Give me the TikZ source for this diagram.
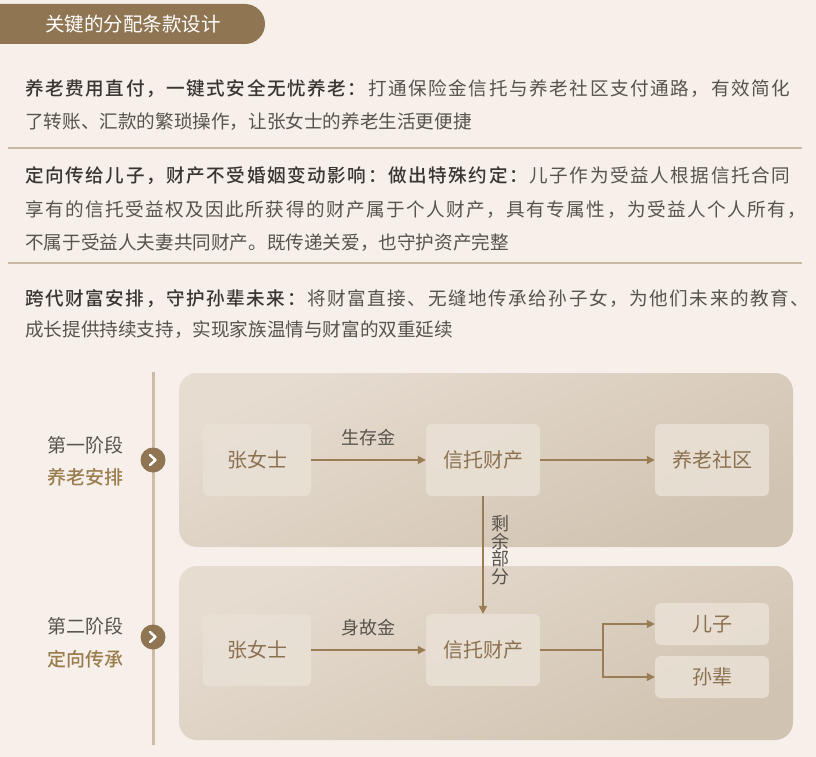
\documentclass[tikz,border=0pt]{standalone}
\usepackage{fontspec}
\setmainfont{Noto Sans CJK SC}[BoldFont={Noto Sans CJK SC Medium}]
\usetikzlibrary{arrows.meta,shadings}
\definecolor{bg}{HTML}{F7F0EA}
\definecolor{tab}{HTML}{8F7552}
\definecolor{txt}{HTML}{58534C}
\definecolor{txtb}{HTML}{3A3530}
\definecolor{sep}{HTML}{C9B8A3}
\definecolor{vline}{HTML}{CDBBA8}
\definecolor{brown}{HTML}{8B7150}
\definecolor{stagec}{HTML}{9A7D4E}
\definecolor{arr}{HTML}{9A7D55}
\definecolor{panelA}{HTML}{E6DCD0}
\definecolor{panelB}{HTML}{D1C3B1}
\definecolor{boxf}{HTML}{EAE1D6}
\newcommand{\fs}[1]{\fontsize{#1}{#1}\selectfont}
\def\sprdA#1{#1\sprdB}
\def\sprdB#1{\ifx#1\relax\else\hfil#1\expandafter\sprdB\fi}
\newcommand{\jlb}[3]{\hbox to #1{{\color{txtb}\bfseries\sprdA #2\relax}\hfil\sprdA #3\relax}}
\newcommand{\jlp}[2]{\hbox to #1{\sprdA #2\relax}}
\tikzset{
  para/.style={anchor=west, inner sep=0pt, text=txt, font=\fs{18.6}},
  panel/.style={rounded corners=18pt, top color=panelA, bottom color=panelB, shading angle=25, inner sep=0pt, minimum width=614pt, minimum height=174pt},
  fbox/.style={rounded corners=6pt, fill=boxf, fill opacity=0.85, text opacity=1, text=brown, font=\fs{20}, inner sep=0pt, minimum width=#1, minimum height=72pt},
  fbox/.default=108pt,
  sbox/.style={rounded corners=6pt, fill=boxf, fill opacity=0.85, text opacity=1, text=brown, font=\fs{20}, inner sep=0pt, minimum width=114pt, minimum height=42pt},
  flow/.style={draw=arr, line width=1.3pt, -{Triangle[length=8pt,width=8pt]}},
  flowline/.style={draw=arr, line width=1.3pt},
  elabel/.style={text=txt, font=\fs{18}, inner sep=0pt},
  stagedot/.style={circle, fill=tab, minimum size=25pt, inner sep=0pt},
  chev/.style={draw=white, line width=2.4pt, line cap=round, line join=round},
  stagea/.style={text=txt, font=\fs{19}, inner sep=0pt},
  stageb/.style={text=stagec, font=\bfseries\fs{19}, inner sep=0pt},
}
\begin{document}
\begin{tikzpicture}[x=1pt,y=-1pt]
\fill[bg] (0,0) rectangle (816,757);
\useasboundingbox (0,0) rectangle (816,757);
% header tab
\fill[tab] (0,4) -- (245,4) arc[start angle=-90, end angle=90, radius=20] -- (0,44) -- cycle;
\node[text=white, font=\fs{19.5}, inner sep=0pt] (hdr) at (133,24) {关键的分配条款设计};
% paragraphs
\node[para] (p1a) at (25,89) {\jlb{765pt}{养老费用直付，一键式安全无忧养老：}{打通保险金信托与养老社区支付通路，有效简化}};
\node[para] (p1b) at (25,122) {了转账、汇款的繁琐操作，让张女士的养老生活更便捷};
\draw[sep, line width=1.3pt] (8,148) -- (802,148);
\node[para] (p2a) at (25,176) {\jlb{765pt}{定向传给儿子，财产不受婚姻变动影响：做出特殊约定：}{儿子作为受益人根据信托合同}};
\node[para] (p2b) at (25,210) {\jlp{781pt}{享有的信托受益权及因此所获得的财产属于个人财产，具有专属性，为受益人个人所有，}};
\node[para] (p2c) at (25,243) {不属于受益人夫妻共同财产。既传递关爱，也守护资产完整};
\draw[sep, line width=1.3pt] (8,263) -- (802,263);
\node[para] (p3a) at (25,299) {\jlb{784pt}{跨代财富安排，守护孙辈未来：}{将财富直接、无缝地传承给孙子女，为他们未来的教育、}};
\node[para] (p3b) at (25,330) {成长提供持续支持，实现家族温情与财富的双重延续};
% timeline
\draw[vline, line width=3pt] (153,372) -- (153,745);
\node[panel] (panel1) at (486,460) {};
\node[panel] (panel2) at (486,653) {};
\node[stagedot] (dot1) at (153,460) {};
\draw[chev] ([xshift=-3pt,yshift=-5pt]dot1.center) -- ([xshift=2.5pt]dot1.center) -- ([xshift=-3pt,yshift=5pt]dot1.center);
\node[stagedot] (dot2) at (153,637) {};
\draw[chev] ([xshift=-3pt,yshift=-5pt]dot2.center) -- ([xshift=2.5pt]dot2.center) -- ([xshift=-3pt,yshift=5pt]dot2.center);
\node[stagea] (s1a) at (85,445) {第一阶段};
\node[stageb] (s1b) at (85,477) {养老安排};
\node[stagea] (s2a) at (85,626) {第二阶段};
\node[stageb] (s2b) at (85,659) {定向传承};
% stage 1 boxes
\node[fbox] (zhang1) at (257,460) {张女士};
\node[fbox=114pt] (trust1) at (483,460) {信托财产};
\node[fbox=114pt] (elder) at (712,460) {养老社区};
\draw[flow] (zhang1.east) -- (trust1.west) node[midway, above=13pt, elabel] (l1) {生存金};
\draw[flow] (trust1.east) -- (elder.west);
% stage 2 boxes
\node[fbox] (zhang2) at (257,650) {张女士};
\node[fbox=114pt] (trust2) at (483,650) {信托财产};
\node[sbox] (son) at (712,624) {儿子};
\node[sbox] (grand) at (712,677) {孙辈};
\draw[flow] (zhang2.east) -- (trust2.west) node[midway, above=13pt, elabel] (l2) {身故金};
\draw[flow] (trust1.south) -- (trust2.north);
\node[elabel, align=center] (rem) at (500,550) {剩\\[-0.5pt]余\\[-0.5pt]部\\[-0.5pt]分};
\coordinate (br) at (603,650);
\draw[flowline] (trust2.east) -- (br);
\draw[flow] (br) |- (son.west);
\draw[flow] (br) |- (grand.west);
\end{tikzpicture}
\end{document}
